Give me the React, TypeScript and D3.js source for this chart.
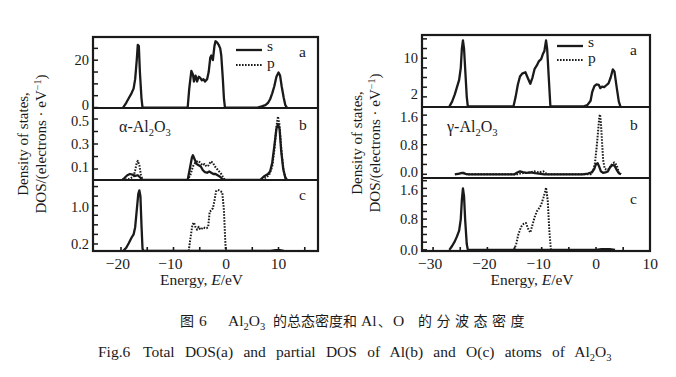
import React from "react";
import * as d3 from "d3";

// ---------- data (energy in eV, DOS values) ----------
const alphaTotal: [number, number][] = [
  [-19.6, 0], [-19, 2], [-18.5, 4], [-18, 6], [-17.6, 8], [-17.3, 12], [-17.0, 20], [-16.8, 26.5], [-16.6, 26], [-16.4, 15], [-16.1, 4], [-15.9, 0],
  [-7.3, 0], [-7.0, 8], [-6.6, 15.5], [-6.3, 14], [-6.1, 11], [-5.8, 13.5], [-5.5, 11], [-5.2, 13], [-4.9, 12.5], [-4.6, 11.5], [-4.3, 12], [-4.0, 11], [-3.6, 12], [-3.3, 15], [-3.0, 21], [-2.8, 22], [-2.5, 20], [-2.2, 26], [-2.0, 28], [-1.7, 27.5], [-1.4, 26.5], [-1.1, 25], [-0.9, 22], [-0.6, 12], [-0.4, 4], [-0.2, 0],
  [6.0, 0], [6.8, 0.5], [7.5, 1], [8.0, 2], [8.4, 3.5], [8.8, 6], [9.2, 9], [9.6, 13], [10.0, 14.8], [10.3, 13.5], [10.6, 9], [11.0, 4], [11.3, 1], [11.6, 0],
];
const alphaAlS: [number, number][] = [
  [-19.8, 0.012], [-19.3, 0.03], [-18.8, 0.05], [-18.3, 0.06], [-17.8, 0.055], [-17.3, 0.045], [-16.8, 0.05], [-16.3, 0.03], [-15.8, 0.012],
  [-7.3, 0.012], [-6.9, 0.1], [-6.5, 0.19], [-6.3, 0.21], [-6.0, 0.18], [-5.6, 0.14], [-5.2, 0.13], [-4.8, 0.12], [-4.4, 0.09], [-4.0, 0.075], [-3.6, 0.07], [-3.2, 0.08], [-2.8, 0.07], [-2.4, 0.06], [-2.0, 0.06], [-1.6, 0.05], [-1.2, 0.04], [-0.7, 0.02], [-0.3, 0.012],
  [6.5, 0.012], [7.2, 0.04], [7.6, 0.05], [8.0, 0.06], [8.4, 0.08], [8.8, 0.15], [9.2, 0.28], [9.6, 0.42], [9.9, 0.46], [10.2, 0.42], [10.5, 0.25], [10.9, 0.1], [11.3, 0.03], [11.6, 0.012],
];
const alphaAlP: [number, number][] = [
  [-19.8, 0.012], [-18.5, 0.02], [-17.6, 0.04], [-17.3, 0.09], [-17.0, 0.15], [-16.8, 0.165], [-16.5, 0.13], [-16.2, 0.05], [-15.9, 0.012],
  [-7.3, 0.012], [-6.8, 0.05], [-6.3, 0.12], [-5.8, 0.155], [-5.3, 0.165], [-4.9, 0.15], [-4.5, 0.13], [-4.1, 0.14], [-3.7, 0.12], [-3.3, 0.13], [-2.9, 0.16], [-2.5, 0.15], [-2.1, 0.12], [-1.7, 0.1], [-1.3, 0.08], [-0.9, 0.06], [-0.5, 0.03], [-0.2, 0.012],
  [6.5, 0.012], [7.5, 0.03], [8.2, 0.05], [8.8, 0.12], [9.2, 0.25], [9.6, 0.44], [9.9, 0.52], [10.2, 0.45], [10.6, 0.22], [11.0, 0.08], [11.4, 0.02], [11.7, 0.012],
];
const alphaOS: [number, number][] = [
  [-19.6, 0.053], [-19.0, 0.12], [-18.5, 0.22], [-18.0, 0.33], [-17.6, 0.4], [-17.3, 0.55], [-17.0, 0.9], [-16.7, 1.25], [-16.5, 1.32], [-16.3, 1.2], [-16.1, 0.6], [-15.9, 0.1], [-15.7, 0.053],
  [8.5, 0.053], [9.5, 0.07], [10.2, 0.07], [11.0, 0.053],
];
const alphaOP: [number, number][] = [
  [-7.1, 0.053], [-6.8, 0.3], [-6.4, 0.6], [-6.1, 0.65], [-5.8, 0.55], [-5.5, 0.5], [-5.2, 0.56], [-4.9, 0.5], [-4.6, 0.52], [-4.3, 0.55], [-4.0, 0.53], [-3.7, 0.53], [-3.4, 0.55], [-3.1, 0.88], [-2.8, 0.9], [-2.5, 0.95], [-2.2, 1.1], [-1.9, 1.3], [-1.6, 1.33], [-1.3, 1.32], [-1.0, 1.3], [-0.7, 1.28], [-0.4, 0.9], [-0.2, 0.4], [-0.05, 0.053],
];

const gammaTotal: [number, number][] = [
  [-27.0, 0], [-26.5, 1], [-26.0, 2.5], [-25.6, 4], [-25.2, 5.5], [-24.9, 8], [-24.7, 12], [-24.5, 13.7], [-24.3, 12], [-24.1, 8], [-23.8, 2], [-23.6, 0],
  [-15.2, 0], [-14.8, 2], [-14.4, 4.5], [-14.0, 6.2], [-13.6, 6.8], [-13.0, 7.1], [-12.6, 6], [-12.1, 4.7], [-11.7, 6], [-11.3, 7.8], [-10.9, 8.5], [-10.5, 9.4], [-10.1, 9.8], [-9.8, 10.8], [-9.5, 11.5], [-9.2, 13.7], [-9.0, 12], [-8.7, 6], [-8.4, 0],
  [-2.4, 0], [-1.6, 0.3], [-1.0, 1.2], [-0.7, 3], [-0.3, 4.2], [0.1, 4.6], [0.5, 4.5], [0.8, 3.8], [1.1, 4.1], [1.5, 4.0], [1.9, 4.4], [2.3, 4.8], [2.7, 6], [3.1, 7.7], [3.4, 7.2], [3.8, 4], [4.2, 1], [4.5, 0],
];
const gammaAlS: [number, number][] = [
  [-26.0, 0], [-25.2, 0.02], [-24.6, 0.04], [-24.0, 0.01], [-23.5, 0],
  [-15.0, 0], [-14.5, 0.05], [-14.0, 0.08], [-13.5, 0.06], [-12.8, 0.04], [-12.0, 0.05], [-11.2, 0.03], [-10.5, 0.02], [-9.5, 0],
  [-2.5, 0], [-1.5, 0.02], [-0.8, 0.05], [-0.3, 0.15], [0.0, 0.28], [0.3, 0.3], [0.6, 0.2], [0.9, 0.08], [1.3, 0.04], [1.7, 0.05], [2.2, 0.08], [2.6, 0.2], [3.0, 0.25], [3.4, 0.24], [3.8, 0.12], [4.2, 0.03], [4.6, 0],
];
const gammaAlP: [number, number][] = [
  [-25.5, 0], [-24.8, 0.04], [-24.5, 0.06], [-24.2, 0.02], [-23.8, 0],
  [-14.5, 0], [-13.8, 0.03], [-12.5, 0.04], [-11.3, 0.08], [-10.5, 0.05], [-9.7, 0.08], [-9.0, 0],
  [-1.0, 0], [-0.5, 0.1], [-0.2, 0.3], [0.1, 0.7], [0.4, 1.2], [0.6, 1.55], [0.75, 1.62], [0.9, 1.4], [1.1, 0.9], [1.3, 0.4], [1.6, 0.15], [2.0, 0.12], [2.5, 0.15], [3.0, 0.3], [3.4, 0.32], [3.8, 0.25], [4.2, 0.05], [4.6, 0],
];
const gammaOS: [number, number][] = [
  [-27.0, 0], [-26.5, 0.1], [-26.0, 0.22], [-25.6, 0.35], [-25.2, 0.5], [-24.9, 0.8], [-24.7, 1.3], [-24.5, 1.6], [-24.3, 1.4], [-24.1, 0.8], [-23.8, 0.15], [-23.6, 0],
  [0.0, 0], [1.0, 0.02], [2.5, 0.02], [3.5, 0],
];
const gammaOP: [number, number][] = [
  [-15.1, 0], [-14.7, 0.15], [-14.3, 0.4], [-13.8, 0.6], [-13.3, 0.68], [-12.9, 0.7], [-12.5, 0.55], [-12.1, 0.45], [-11.7, 0.65], [-11.3, 0.85], [-10.9, 1.0], [-10.5, 1.08], [-10.1, 1.17], [-9.7, 1.35], [-9.4, 1.5], [-9.2, 1.62], [-8.9, 1.3], [-8.6, 0.5], [-8.3, 0],
];

const alphaXLabels = [-20, -10, 0, 10];
const alphaXTicks = [-20, -15, -10, -5, 0, 5, 10, 15];
const gammaXLabels = [-30, -20, -10, 0, 10];
const gammaXTicks = [-30, -25, -20, -15, -10, -5, 0, 5];

const alphaYTicks = [[0, 5, 10, 15, 20, 25], [0.1, 0.2, 0.3, 0.4, 0.5], [0.2, 0.4, 0.6, 0.8, 1.0, 1.2, 1.4]];
const alphaYLabels = [["0", "20"], ["0.1", "0.3", "0.5"], ["0.2", "1.0"]];
const gammaYTicks = [[2, 4, 6, 8, 10, 12, 14], [0, 1.6 / 6, 3.2 / 6, 0.8, 6.4 / 6, 8 / 6, 1.6], [0, 0.2, 0.4, 0.6, 0.8, 1.0, 1.2, 1.4, 1.6, 1.8]];
const gammaYLabels = [["2", "10"], ["0.0", "0.8", "1.6"], ["0.0", "0.8", "1.6"]];

const panelLetters = ["a", "b", "c"];

const SERIF = "'Liberation Serif', 'DejaVu Serif', serif";
const CJK = "'Noto Sans CJK SC', 'Liberation Serif', serif";
const INK = "#1a1a1a";

type Series = { data: [number, number][]; dotted: boolean };

interface PlotCfg {
  id: string;
  x0: number; x1: number;
  xDomain: [number, number];
  panels: { top: number; bottom: number; domain: [number, number]; series: Series[] }[];
  yTicks: number[][];
  yLabels: string[][];
  xTicks: number[];
  xLabels: number[];
  phase: string;
  phaseX: number;
  titleX: number;
  letterX: number;
  letterY: number[];
  legendX: number;
  legendY: number[];
}

const plots: PlotCfg[] = [
  {
    id: "alpha", x0: 93, x1: 318, xDomain: [-25.33, 17.52],
    panels: [
      { top: 37, bottom: 108, domain: [-0.2, 29.8], series: [{ data: alphaTotal, dotted: false }] },
      { top: 108, bottom: 180, domain: [0.012, 0.588], series: [{ data: alphaAlP, dotted: true }, { data: alphaAlS, dotted: false }] },
      { top: 180, bottom: 251, domain: [0.053, 1.537], series: [{ data: alphaOP, dotted: true }, { data: alphaOS, dotted: false }] },
    ],
    yTicks: alphaYTicks, yLabels: alphaYLabels, xTicks: alphaXTicks, xLabels: alphaXLabels,
    phase: "α", phaseX: 119, titleX: 23, letterX: 299, letterY: [52, 125, 195], legendX: 236, legendY: [50, 65],
  },
  {
    id: "gamma", x0: 422, x1: 650, xDomain: [-32.04, 9.94],
    panels: [
      { top: 35, bottom: 107, domain: [-0.1, 14.8], series: [{ data: gammaTotal, dotted: false }] },
      { top: 107, bottom: 178, domain: [-0.1, 1.82], series: [{ data: gammaAlP, dotted: true }, { data: gammaAlS, dotted: false }] },
      { top: 178, bottom: 251, domain: [-0.03, 1.87], series: [{ data: gammaOP, dotted: true }, { data: gammaOS, dotted: false }] },
    ],
    yTicks: gammaYTicks, yLabels: gammaYLabels, xTicks: gammaXTicks, xLabels: gammaXLabels,
    phase: "γ", phaseX: 447, titleX: 357, letterX: 630, letterY: [50, 125, 199], legendX: 557, legendY: [46, 60],
  },
];

// small nudges so neighbouring tick labels at panel joins do not collide
function labelNudge(panel: number, k: number, n: number): number {
  if (k === 0 && panel < 2) return -2.5;
  if (k === n - 1 && panel > 0) return 1.5;
  return 0;
}

function Plot({ cfg }: { cfg: PlotCfg }) {
  const x = d3.scaleLinear().domain(cfg.xDomain).range([cfg.x0, cfg.x1]);
  const top = cfg.panels[0].top;
  const bottom = cfg.panels[2].bottom;
  const midY = (top + bottom) / 2;
  return (
    <g>
      <defs>
        {cfg.panels.map((p, i) => (
          <clipPath id={`clip-${cfg.id}-${i}`} key={i}>
            <rect x={cfg.x0} y={p.top} width={cfg.x1 - cfg.x0} height={p.bottom - p.top} />
          </clipPath>
        ))}
      </defs>
      {cfg.panels.map((p, i) => {
        const y = d3.scaleLinear().domain(p.domain).range([p.bottom, p.top]);
        const line = d3.line<[number, number]>().x((d) => x(d[0])).y((d) => y(d[1]));
        const labels = cfg.yLabels[i];
        return (
          <g key={i}>
            <g clipPath={`url(#clip-${cfg.id}-${i})`}>
              {p.series.map((s, j) => (
                <path key={j} d={line(s.data) || ""} fill="none" stroke={INK}
                  strokeWidth={s.dotted ? 2 : 2.3} strokeDasharray={s.dotted ? "1.6,1.4" : undefined}
                  strokeLinejoin="round" />
              ))}
            </g>
            {cfg.yTicks[i].map((t, k) => (
              <line key={k} x1={cfg.x0} x2={cfg.x0 + 5} y1={y(t)} y2={y(t)} stroke={INK} strokeWidth={1.5} />
            ))}
            {labels.map((t, k) => (
              <text key={k} x={cfg.x0 - 4} y={y(+t) + 5 + labelNudge(i, k, labels.length)} textAnchor="end" fontFamily={SERIF} fontSize={14.5} fill={INK}>{t}</text>
            ))}
            <text x={cfg.letterX} y={cfg.letterY[i] + 5} fontFamily={SERIF} fontSize={15.5} fill={INK}>{panelLetters[i]}</text>
            {i > 0 && <line x1={cfg.x0} x2={cfg.x1} y1={p.top} y2={p.top} stroke={INK} strokeWidth={2} />}
          </g>
        );
      })}
      <rect x={cfg.x0} y={top} width={cfg.x1 - cfg.x0} height={bottom - top} fill="none" stroke={INK} strokeWidth={2.2} />
      {cfg.xTicks.map((t) => (
        <line key={t} x1={x(t)} x2={x(t)} y1={bottom} y2={bottom - 4} stroke={INK} strokeWidth={1.6} />
      ))}
      {cfg.xLabels.map((t) => (
        <text key={t} x={x(t) - (t < 0 ? 3 : 0)} y={268.5} textAnchor="middle" fontFamily={SERIF} fontSize={15.5} fill={INK}>
          {t < 0 ? `\u2212${Math.abs(t)}` : `${t}`}
        </text>
      ))}
      <text x={(cfg.x0 + cfg.x1) / 2 - 4} y={284.5} textAnchor="middle" fontFamily={SERIF} fontSize={15.5} fill={INK}>
        Energy, <tspan fontStyle="italic">E</tspan>/eV
      </text>
      <text transform={`translate(${cfg.titleX + 5},${midY}) rotate(-90)`} textAnchor="middle" fontFamily={SERIF} fontSize={15} fill={INK}>Density of states,</text>
      <text transform={`translate(${cfg.titleX + 23},${midY}) rotate(-90)`} textAnchor="middle" fontFamily={SERIF} fontSize={15} fill={INK}>
        DOS/(electrons · eV<tspan dy="-5" fontSize={10}>−1</tspan><tspan dy="5">)</tspan>
      </text>
      {/* legend */}
      <line x1={cfg.legendX} x2={cfg.legendX + 26} y1={cfg.legendY[0]} y2={cfg.legendY[0]} stroke={INK} strokeWidth={2.3} />
      <text x={cfg.legendX + 31} y={cfg.legendY[0] + 1} fontFamily={SERIF} fontSize={15.5} fill={INK}>s</text>
      <line x1={cfg.legendX} x2={cfg.legendX + 26} y1={cfg.legendY[1]} y2={cfg.legendY[1]} stroke={INK} strokeWidth={2} strokeDasharray="1.6,1.4" />
      <text x={cfg.legendX + 31} y={cfg.legendY[1] + 3} fontFamily={SERIF} fontSize={15.5} fill={INK}>p</text>
      {/* phase label */}
      <text x={cfg.phaseX} y={132} fontFamily={SERIF} fontSize={16} fill={INK}>
        {cfg.phase}-Al<tspan dy="4" fontSize={10.5}>2</tspan><tspan dy="-4">O</tspan><tspan dy="4" fontSize={10.5}>3</tspan>
      </text>
    </g>
  );
}

export default function App() {
  return (
    <svg width={676} height={377} style={{ position: "absolute", left: 0, top: 0, background: "#fff" }}>
      <rect width={676} height={377} fill="#fff" />
      {plots.map((p) => <Plot key={p.id} cfg={p} />)}
      {/* Chinese caption */}
      <g fontSize={14} fill={INK}>
        <text x={180} y={326} fontFamily={CJK}>图</text>
        <text x={199} y={326} fontFamily={SERIF} fontSize={15.5}>6</text>
        <text x={228} y={326} fontFamily={SERIF} fontSize={15.5}>
          Al<tspan dy="4" fontSize={10.5}>2</tspan><tspan dy="-4">O</tspan><tspan dy="4" fontSize={10.5}>3</tspan>
        </text>
        <text x={273} y={326} fontFamily={CJK}>的总态密度和</text>
        <text x={361} y={326} fontFamily={SERIF} fontSize={15.5}>Al</text>
        <text x={378} y={326} fontFamily={CJK} fontSize={13}>、</text>
        <text x={393} y={326} fontFamily={SERIF} fontSize={15.5}>O</text>
        <text x={418} y={326} fontFamily={CJK} letterSpacing={4.5}>的分波态密度</text>
      </g>
      {/* English caption */}
      <g fontFamily={SERIF} fontSize={15.5} fill={INK}>
        <text x={98} y={357}>Fig.6</text>
        <text x={143} y={357} wordSpacing={6.4}>
          Total DOS(a) and partial DOS of Al(b) and O(c) atoms of Al<tspan dy="4" fontSize={10.5}>2</tspan><tspan dy="-4">O</tspan><tspan dy="4" fontSize={10.5}>3</tspan>
        </text>
      </g>
    </svg>
  );
}
